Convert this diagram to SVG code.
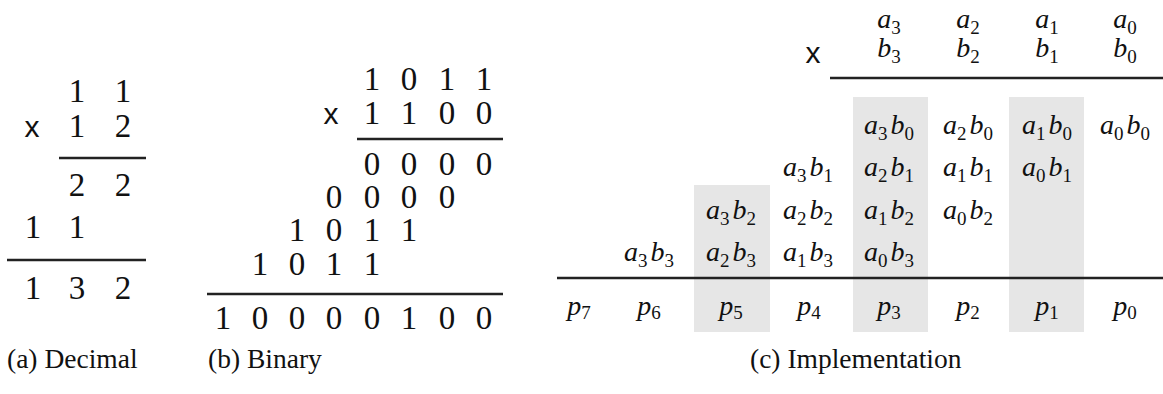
<svg xmlns="http://www.w3.org/2000/svg" width="1163" height="394" viewBox="0 0 1163 394">
<style>
  .d { font-family: "Liberation Serif", serif; font-size: 33px; fill: #111; text-anchor: middle; }
  .x { font-family: "Liberation Sans", sans-serif; font-size: 30px; fill: #111; text-anchor: middle; }
  .m { font-family: "Liberation Serif", serif; font-size: 28px; font-style: italic; fill: #111; text-anchor: middle; }
  .s { font-size: 19px; font-style: normal; }
  .cap { font-family: "Liberation Serif", serif; font-size: 27.5px; fill: #111; }
  .rule { stroke: #222; stroke-width: 2.5; fill: none; }
  .hl { fill: #e6e6e6; }
</style>

<g id="panel-a">
  <text class="d" x="77" y="102">1</text><text class="d" x="123" y="102">1</text>
  <text class="x" x="32" y="137">x</text>
  <text class="d" x="77" y="137">1</text><text class="d" x="123" y="137">2</text>
  <line class="rule" x1="59" y1="158" x2="146" y2="158"/>
  <text class="d" x="77" y="196">2</text><text class="d" x="123" y="196">2</text>
  <text class="d" x="33" y="238">1</text><text class="d" x="77" y="238">1</text>
  <line class="rule" x1="7" y1="260" x2="146" y2="260"/>
  <text class="d" x="33" y="299">1</text><text class="d" x="77" y="299">3</text><text class="d" x="123" y="299">2</text>
</g>

<g id="panel-b">
  <text class="d" x="372" y="90">1</text><text class="d" x="409" y="90">0</text><text class="d" x="447" y="90">1</text><text class="d" x="484" y="90">1</text>
  <text class="x" x="331" y="124">x</text>
  <text class="d" x="372" y="124">1</text><text class="d" x="409" y="124">1</text><text class="d" x="447" y="124">0</text><text class="d" x="484" y="124">0</text>
  <line class="rule" x1="357" y1="139" x2="503" y2="139"/>
  <text class="d" x="372" y="175">0</text><text class="d" x="409" y="175">0</text><text class="d" x="447" y="175">0</text><text class="d" x="484" y="175">0</text>
  <text class="d" x="334" y="208">0</text><text class="d" x="372" y="208">0</text><text class="d" x="409" y="208">0</text><text class="d" x="447" y="208">0</text>
  <text class="d" x="297" y="241">1</text><text class="d" x="334" y="241">0</text><text class="d" x="372" y="241">1</text><text class="d" x="409" y="241">1</text>
  <text class="d" x="260" y="275">1</text><text class="d" x="297" y="275">0</text><text class="d" x="334" y="275">1</text><text class="d" x="372" y="275">1</text>
  <line class="rule" x1="207" y1="294" x2="503" y2="294"/>
  <text class="d" x="223" y="329">1</text><text class="d" x="260" y="329">0</text><text class="d" x="297" y="329">0</text><text class="d" x="334" y="329">0</text><text class="d" x="372" y="329">0</text><text class="d" x="409" y="329">1</text><text class="d" x="447" y="329">0</text><text class="d" x="484" y="329">0</text>
</g>

<g id="panel-c">
  <rect class="hl" x="694" y="185" width="76" height="147"/>
  <rect class="hl" x="853" y="97" width="75" height="235"/>
  <rect class="hl" x="1009" y="97" width="75" height="235"/>

  <text class="m" x="889" y="28">a<tspan class="s" dy="6">3</tspan></text>
  <text class="m" x="968" y="28">a<tspan class="s" dy="6">2</tspan></text>
  <text class="m" x="1047" y="28">a<tspan class="s" dy="6">1</tspan></text>
  <text class="m" x="1125" y="28">a<tspan class="s" dy="6">0</tspan></text>
  <text class="x" x="813" y="63">x</text>
  <text class="m" x="889" y="57">b<tspan class="s" dy="6">3</tspan></text>
  <text class="m" x="968" y="57">b<tspan class="s" dy="6">2</tspan></text>
  <text class="m" x="1047" y="57">b<tspan class="s" dy="6">1</tspan></text>
  <text class="m" x="1125" y="57">b<tspan class="s" dy="6">0</tspan></text>
  <line class="rule" x1="830" y1="78" x2="1163" y2="78"/>

  <text class="m" x="889" y="134">a<tspan class="s" dy="6">3</tspan><tspan dx="3" dy="-6">b</tspan><tspan class="s" dy="6">0</tspan></text>
  <text class="m" x="968" y="134">a<tspan class="s" dy="6">2</tspan><tspan dx="3" dy="-6">b</tspan><tspan class="s" dy="6">0</tspan></text>
  <text class="m" x="1047" y="134">a<tspan class="s" dy="6">1</tspan><tspan dx="3" dy="-6">b</tspan><tspan class="s" dy="6">0</tspan></text>
  <text class="m" x="1125" y="134">a<tspan class="s" dy="6">0</tspan><tspan dx="3" dy="-6">b</tspan><tspan class="s" dy="6">0</tspan></text>

  <text class="m" x="808" y="176">a<tspan class="s" dy="6">3</tspan><tspan dx="3" dy="-6">b</tspan><tspan class="s" dy="6">1</tspan></text>
  <text class="m" x="889" y="176">a<tspan class="s" dy="6">2</tspan><tspan dx="3" dy="-6">b</tspan><tspan class="s" dy="6">1</tspan></text>
  <text class="m" x="968" y="176">a<tspan class="s" dy="6">1</tspan><tspan dx="3" dy="-6">b</tspan><tspan class="s" dy="6">1</tspan></text>
  <text class="m" x="1047" y="176">a<tspan class="s" dy="6">0</tspan><tspan dx="3" dy="-6">b</tspan><tspan class="s" dy="6">1</tspan></text>

  <text class="m" x="731" y="219">a<tspan class="s" dy="6">3</tspan><tspan dx="3" dy="-6">b</tspan><tspan class="s" dy="6">2</tspan></text>
  <text class="m" x="808" y="219">a<tspan class="s" dy="6">2</tspan><tspan dx="3" dy="-6">b</tspan><tspan class="s" dy="6">2</tspan></text>
  <text class="m" x="889" y="219">a<tspan class="s" dy="6">1</tspan><tspan dx="3" dy="-6">b</tspan><tspan class="s" dy="6">2</tspan></text>
  <text class="m" x="968" y="219">a<tspan class="s" dy="6">0</tspan><tspan dx="3" dy="-6">b</tspan><tspan class="s" dy="6">2</tspan></text>

  <text class="m" x="649" y="261">a<tspan class="s" dy="6">3</tspan><tspan dx="3" dy="-6">b</tspan><tspan class="s" dy="6">3</tspan></text>
  <text class="m" x="731" y="261">a<tspan class="s" dy="6">2</tspan><tspan dx="3" dy="-6">b</tspan><tspan class="s" dy="6">3</tspan></text>
  <text class="m" x="808" y="261">a<tspan class="s" dy="6">1</tspan><tspan dx="3" dy="-6">b</tspan><tspan class="s" dy="6">3</tspan></text>
  <text class="m" x="889" y="261">a<tspan class="s" dy="6">0</tspan><tspan dx="3" dy="-6">b</tspan><tspan class="s" dy="6">3</tspan></text>

  <line class="rule" x1="557" y1="278" x2="1163" y2="278"/>

  <text class="m" x="579" y="315">p<tspan class="s" dy="4">7</tspan></text>
  <text class="m" x="649" y="315">p<tspan class="s" dy="4">6</tspan></text>
  <text class="m" x="731" y="315">p<tspan class="s" dy="4">5</tspan></text>
  <text class="m" x="809" y="315">p<tspan class="s" dy="4">4</tspan></text>
  <text class="m" x="889" y="315">p<tspan class="s" dy="4">3</tspan></text>
  <text class="m" x="968" y="315">p<tspan class="s" dy="4">2</tspan></text>
  <text class="m" x="1047" y="315">p<tspan class="s" dy="4">1</tspan></text>
  <text class="m" x="1125" y="315">p<tspan class="s" dy="4">0</tspan></text>
</g>

<g id="captions">
  <text class="cap" x="7" y="368">(a) Decimal</text>
  <text class="cap" x="208" y="368">(b) Binary</text>
  <text class="cap" x="750" y="368">(c) Implementation</text>
</g>
</svg>
